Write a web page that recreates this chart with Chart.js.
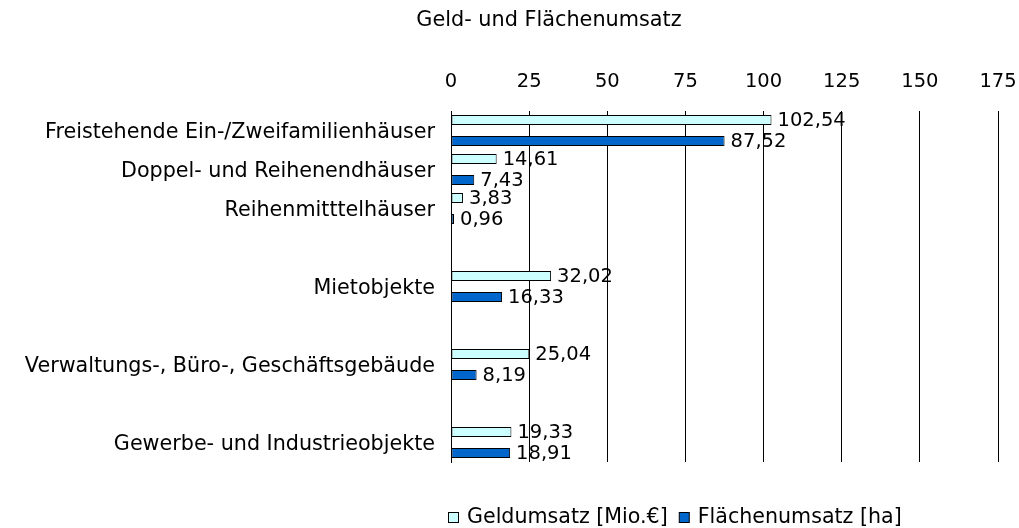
<!DOCTYPE html>
<html lang="de">
<head>
  <meta charset="UTF-8" />
  <title>Geld- und Flächenumsatz</title>
  <script src="https://cdn.jsdelivr.net/npm/chart.js"></script>
  <style>
    body { margin: 0; background: #fff; }
    #wrap { width: 1019px; height: 528px; }
  </style>
</head>
<body>
  <div id="wrap"><canvas id="umsatzChart"></canvas></div>
  <script>
    // Kategorien (leere Einträge = Abstände zwischen den Gruppen)
    const kategorien = [
      "Freistehende Ein-/Zweifamilienhäuser",
      "Doppel- und Reihenendhäuser",
      "Reihenmitttelhäuser",
      "",
      "Mietobjekte",
      "",
      "Verwaltungs-, Büro-, Geschäftsgebäude",
      "",
      "Gewerbe- und Industrieobjekte"
    ];
    const geldumsatz = [102.54, 14.61, 3.83, null, 32.02, null, 25.04, null, 19.33];
    const flaechenumsatz = [87.52, 7.43, 0.96, null, 16.33, null, 8.19, null, 18.91];
    const achsenTicks = [0, 25, 50, 75, 100, 125, 150, 175];
    const serienNamen = ["Geldumsatz [Mio.€]", "Flächenumsatz [ha]"];
    const titel = "Geld- und Flächenumsatz";

    const schrift = '"DejaVu Sans", Verdana, sans-serif';
    const farben = ["#ccffff", "#0066cc"];

    // Werte an die Balken schreiben, Titel und Legende zeichnen
    const beschriftung = {
      id: 'beschriftung',
      afterDatasetsDraw(chart) {
        const ctx = chart.ctx;
        ctx.save();
        ctx.font = '19.5px ' + schrift;
        ctx.fillStyle = '#000';
        ctx.textAlign = 'left';
        ctx.textBaseline = 'middle';
        chart.data.datasets.forEach((ds, i) => {
          chart.getDatasetMeta(i).data.forEach((bar, j) => {
            const v = ds.data[j];
            if (v == null) return;
            ctx.fillText(v.toFixed(2).replace('.', ','), bar.x + 6, bar.y + 1);
          });
        });
        ctx.restore();
      },
      afterDraw(chart) {
        const ctx = chart.ctx;
        ctx.save();
        ctx.fillStyle = '#000';
        ctx.textBaseline = 'middle';

        // Titel
        ctx.font = '20.8px ' + schrift;
        ctx.textAlign = 'center';
        ctx.fillText(titel, 549, 21);

        // Legende
        ctx.font = '20.6px ' + schrift;
        ctx.textAlign = 'left';
        let x = 448;
        const y = 518;
        serienNamen.forEach((name, i) => {
          ctx.fillStyle = farben[i];
          ctx.fillRect(x + 0.5, y - 5.5, 10, 10);
          ctx.strokeStyle = '#000';
          ctx.lineWidth = 1;
          ctx.strokeRect(x + 0.5, y - 5.5, 10, 10);
          ctx.fillStyle = '#000';
          ctx.fillText(name, x + 19, y);
          x += 19 + ctx.measureText(name).width + 11;
        });
        ctx.restore();
      }
    };

    new Chart(document.getElementById('umsatzChart'), {
      type: 'bar',
      data: {
        labels: kategorien,
        datasets: [
          {
            label: serienNamen[0],
            data: geldumsatz,
            backgroundColor: farben[0],
            borderColor: '#000',
            borderWidth: 1,
            borderSkipped: false,
            categoryPercentage: 1.07,
            barPercentage: 0.48
          },
          {
            label: serienNamen[1],
            data: flaechenumsatz,
            backgroundColor: farben[1],
            borderColor: '#000',
            borderWidth: 1,
            borderSkipped: false,
            categoryPercentage: 1.07,
            barPercentage: 0.48
          }
        ]
      },
      options: {
        indexAxis: 'y',
        responsive: true,
        maintainAspectRatio: false,
        animation: false,
        layout: { padding: { top: 67, right: 21, bottom: 66, left: 0 } },
        plugins: {
          legend: { display: false },
          title: { display: false },
          tooltip: { enabled: false }
        },
        scales: {
          x: {
            type: 'linear',
            position: 'top',
            min: 0,
            max: 175,
            afterBuildTicks(scale) {
              scale.ticks = achsenTicks.map(v => ({ value: v }));
            },
            afterFit(scale) {
              scale.height = 44;
              scale.paddingLeft = 0;
              scale.paddingRight = 0;
            },
            grid: { color: '#000', drawTicks: false },
            border: { display: false },
            ticks: {
              padding: 17,
              color: '#000',
              font: { family: schrift, size: 19.5 }
            }
          },
          y: {
            grid: { display: false },
            border: { display: true, color: '#000' },
            afterFit(scale) {
              scale.width = 451;
            },
            ticks: {
              padding: 8,
              labelOffset: 2,
              autoSkip: false,
              color: '#000',
              font: { family: schrift, size: 20.7 }
            }
          }
        }
      },
      plugins: [beschriftung]
    });
  </script>
</body>
</html>
